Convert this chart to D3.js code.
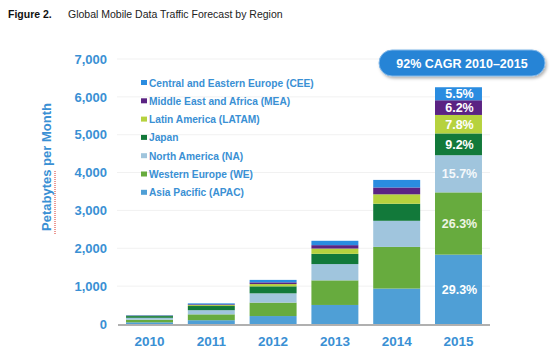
<!DOCTYPE html>
<html>
<head>
<meta charset="utf-8">
<script src="https://cdn.jsdelivr.net/npm/d3@7"></script>
<style>
  body { margin: 0; background: #fff; }
  svg { display: block; font-family: "Liberation Sans", Arial, sans-serif; }
</style>
</head>
<body>
<svg id="chart" width="550" height="351"></svg>
<script>
const years = ['2010', '2011', '2012', '2013', '2014', '2015']
const regions = ['APAC', 'WE', 'NA', 'Japan', 'LATAM', 'MEA', 'CEE']
const legendLabels = [
  'Central and Eastern Europe (CEE)',
  'Middle East and Africa (MEA)',
  'Latin America (LATAM)',
  'Japan',
  'North America (NA)',
  'Western Europe (WE)',
  'Asia Pacific (APAC)'
]
const legendKeys = ['CEE', 'MEA', 'LATAM', 'Japan', 'NA', 'WE', 'APAC']

// petabytes per month
const apac = [44, 100, 210, 503, 936, 1832]
const we = [70, 155, 355, 650, 1100, 1645]
const na = [50, 110, 245, 430, 690, 982]
const japan = [45, 110, 185, 270, 450, 575]
const latam = [10, 25, 60, 140, 250, 488]
const mea = [8, 20, 45, 90, 180, 388]
const cee = [10, 25, 65, 115, 200, 344]

const share2015 = ['29.3%', '26.3%', '15.7%', '9.2%', '7.8%', '6.2%', '5.5%']
const yTicks = [0, 1000, 2000, 3000, 4000, 5000, 6000, 7000]

const colors = {
  APAC: '#4f9fd6',
  WE: '#67ab3e',
  NA: '#a0c5dd',
  Japan: '#12793a',
  LATAM: '#b6d23e',
  MEA: '#5b2383',
  CEE: '#2a8ce0'
}
const textBlue = '#3a90d4'

const series = { APAC: apac, WE: we, NA: na, Japan: japan, LATAM: latam, MEA: mea, CEE: cee }
const table = years.map((y, i) => {
  const row = { year: y }
  regions.forEach(r => { row[r] = series[r][i] })
  return row
})

const svg = d3.select('#chart')

const x = d3.scaleBand()
  .domain(years)
  .range([118, 490])
  .paddingInner(0.24)
  .paddingOuter(0.13)

const y = d3.scaleLinear()
  .domain([0, 7000])
  .range([324, 59])

// title
svg.append('text')
  .attr('x', 8).attr('y', 18)
  .attr('font-size', 10.5).attr('font-weight', 'bold').attr('fill', '#111')
  .text('Figure 2.')
svg.append('text')
  .attr('x', 68).attr('y', 18)
  .attr('font-size', 10.5).attr('fill', '#222')
  .text('Global Mobile Data Traffic Forecast by Region')

// faint gridlines
svg.append('g')
  .selectAll('line')
  .data(yTicks.slice(1))
  .join('line')
  .attr('x1', 117).attr('x2', 490)
  .attr('y1', d => y(d)).attr('y2', d => y(d))
  .attr('stroke', '#f1f1f1')

// y axis labels
const yAxis = svg.append('g')
  .attr('transform', 'translate(107,0)')
  .call(d3.axisLeft(y).tickValues(yTicks).tickSize(0).tickPadding(0).tickFormat(d3.format(',')))
yAxis.select('.domain').remove()
yAxis.selectAll('text')
  .attr('font-size', 13).attr('font-weight', 'bold').attr('fill', textBlue)
  .attr('font-family', '"Liberation Sans", Arial, sans-serif')

// y title (with the spell-check squiggle of the original)
const yTitle = svg.append('g').attr('transform', 'translate(51,167) rotate(-90)')
yTitle.append('text')
  .attr('text-anchor', 'middle')
  .attr('font-size', 13).attr('font-weight', 'bold').attr('fill', textBlue)
  .text('Petabytes per Month')
yTitle.append('line')
  .attr('x1', -67).attr('x2', -4).attr('y1', 4).attr('y2', 4)
  .attr('stroke', '#d8342c').attr('stroke-width', 1).attr('stroke-dasharray', '1,1')

// stacked bars
const stack = d3.stack().keys(regions)(table)
svg.append('g')
  .selectAll('g')
  .data(stack)
  .join('g')
  .attr('fill', d => colors[d.key])
  .selectAll('rect')
  .data(d => d)
  .join('rect')
  .attr('x', d => x(d.data.year))
  .attr('width', x.bandwidth())
  .attr('y', d => y(d[1]))
  .attr('height', d => y(d[0]) - y(d[1]))

// baseline
svg.append('line')
  .attr('x1', 118).attr('x2', 490)
  .attr('y1', y(0) + 1).attr('y2', y(0) + 1)
  .attr('stroke', '#b0b0b0').attr('stroke-width', 2)

// x labels
const xAxis = svg.append('g')
  .attr('transform', `translate(0,${y(0) + 12})`)
  .call(d3.axisBottom(x).tickSize(0).tickPadding(0))
xAxis.select('.domain').remove()
xAxis.selectAll('text')
  .attr('font-size', 13.5).attr('font-weight', 'bold').attr('fill', textBlue)
  .attr('font-family', '"Liberation Sans", Arial, sans-serif')

// 2015 shares
const last = years.length - 1
svg.append('g')
  .selectAll('text')
  .data(stack)
  .join('text')
  .attr('x', x('2015') + x.bandwidth() / 2 + 1)
  .attr('y', d => (y(d[last][0]) + y(d[last][1])) / 2 + 4.5)
  .attr('text-anchor', 'middle')
  .attr('font-size', 12.5).attr('font-weight', 'bold')
  .attr('fill', d => d.key === 'WE' ? '#eef5e4' : (d.key === 'NA' ? '#f4f8fb' : '#fff'))
  .text((d, i) => share2015[i])

// legend
const legend = svg.append('g').attr('transform', 'translate(141,83)')
const row = legend.selectAll('g')
  .data(legendKeys)
  .join('g')
  .attr('transform', (d, i) => `translate(0,${i * 18.3})`)
row.append('rect')
  .attr('x', 0).attr('y', -3).attr('width', 6).attr('height', 5)
  .attr('fill', d => colors[d])
row.append('text')
  .attr('x', 8).attr('y', 3.5)
  .attr('font-size', 10.2).attr('font-weight', 'bold').attr('fill', textBlue)
  .text((d, i) => legendLabels[i])

// CAGR badge
const defs = svg.append('defs')
const shadow = defs.append('filter').attr('id', 'shadow').attr('x', '-10%').attr('y', '-30%').attr('width', '130%').attr('height', '180%')
shadow.append('feDropShadow').attr('dx', 1.5).attr('dy', 2).attr('stdDeviation', 1.5).attr('flood-color', '#000').attr('flood-opacity', 0.3)
const badge = svg.append('g')
badge.append('rect')
  .attr('x', 379).attr('y', 50).attr('width', 166).attr('height', 26).attr('rx', 13)
  .attr('fill', '#2784d6').attr('stroke', '#7fb6e8').attr('stroke-width', 1)
  .attr('filter', 'url(#shadow)')
badge.append('text')
  .attr('x', 462).attr('y', 67.5)
  .attr('text-anchor', 'middle')
  .attr('font-size', 12.5).attr('font-weight', 'bold').attr('fill', '#fff')
  .text('92% CAGR 2010–2015')
</script>
</body>
</html>
